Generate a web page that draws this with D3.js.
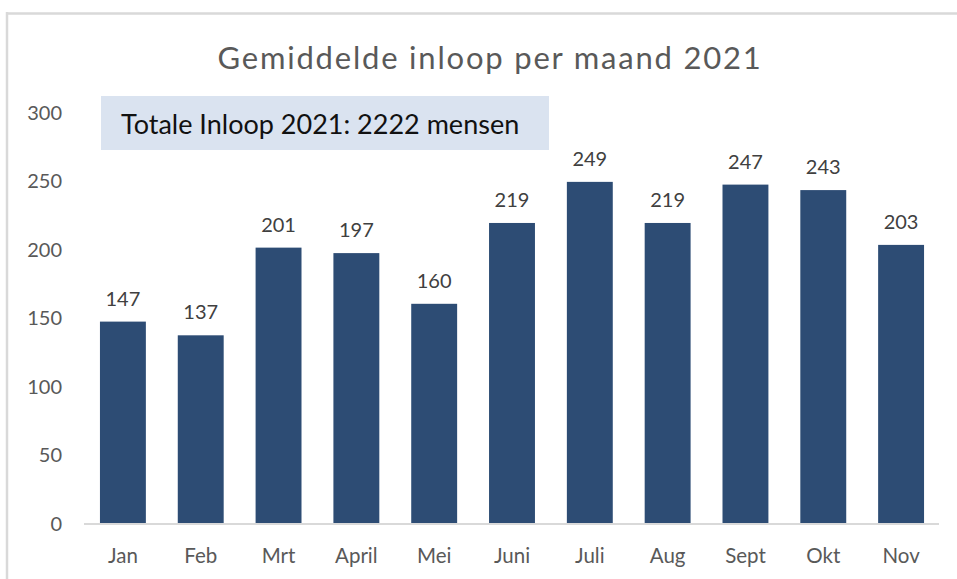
<!DOCTYPE html>
<html><head><meta charset="utf-8">
<script src="https://cdn.jsdelivr.net/npm/d3@7"></script>
<style>html,body{margin:0;padding:0;background:#fff;}svg{display:block;}</style>
</head><body>
<svg id="c" width="957" height="579"></svg>
<script>
const months = ["Jan","Feb","Mrt","April","Mei","Juni","Juli","Aug","Sept","Okt","Nov"];
const values = [147,137,201,197,160,219,249,219,247,243,203];
const yTicks = [0,50,100,150,200,250,300];
const titleText = "Gemiddelde inloop per maand 2021";
const boxText = "Totale Inloop 2021: 2222 mensen";

const svg = d3.select("#c");
const font = "Lato, 'Open Sans', sans-serif";

// frame
svg.append("line").attr("x1",6).attr("x2",957).attr("y1",13.5).attr("y2",13.5).attr("stroke","#d9d9d9").attr("stroke-width",2.5);
svg.append("line").attr("x1",7).attr("x2",7).attr("y1",12).attr("y2",579).attr("stroke","#d9d9d9").attr("stroke-width",2.5);

const x = d3.scaleBand().domain(months).range([84,940]).paddingInner(0.41).paddingOuter(0.205);
const y = d3.scaleLinear().domain([0,300]).range([523,112]);

// title
svg.append("text").attr("x",490).attr("y",69).attr("text-anchor","middle")
  .attr("font-family",font).attr("font-size",31).attr("letter-spacing",1.8).attr("fill","#595959").text(titleText);

// y axis labels
const ya = svg.append("g").attr("transform","translate(62,1)")
  .call(d3.axisLeft(y).tickValues(yTicks).tickSize(0).tickPadding(0));
ya.select(".domain").remove();
ya.selectAll("text").attr("font-family",font).attr("font-size",20).attr("fill","#595959");

// bars
svg.append("g").selectAll("rect").data(values).join("rect")
  .attr("x",(d,i)=>x(months[i])).attr("width",x.bandwidth())
  .attr("y",d=>y(d)).attr("height",d=>y(0)-y(d))
  .attr("fill","#2d4c74");

// x axis
const xa = svg.append("g").attr("transform",`translate(0,${y(0)+1})`)
  .call(d3.axisBottom(x).tickSize(0).tickPadding(24));
xa.select(".domain").attr("stroke","#d9d9d9").attr("stroke-width",2).attr("d","M84,0H939");
xa.selectAll("text").attr("font-family",font).attr("font-size",20.5).attr("fill","#595959");

// data labels
svg.append("g").selectAll("text").data(values).join("text")
  .attr("x",(d,i)=>x(months[i])+x.bandwidth()/2).attr("y",d=>y(d)-16)
  .attr("text-anchor","middle").attr("font-family",font).attr("font-size",20).attr("fill","#404040")
  .text(d=>d);

// text box
svg.append("rect").attr("x",101).attr("y",96).attr("width",448).attr("height",54).attr("fill","#dae3f0");
svg.append("text").attr("x",121).attr("y",134).attr("font-family",font).attr("font-size",27).attr("fill","#111")
  .text(boxText);
</script>
</body></html>
